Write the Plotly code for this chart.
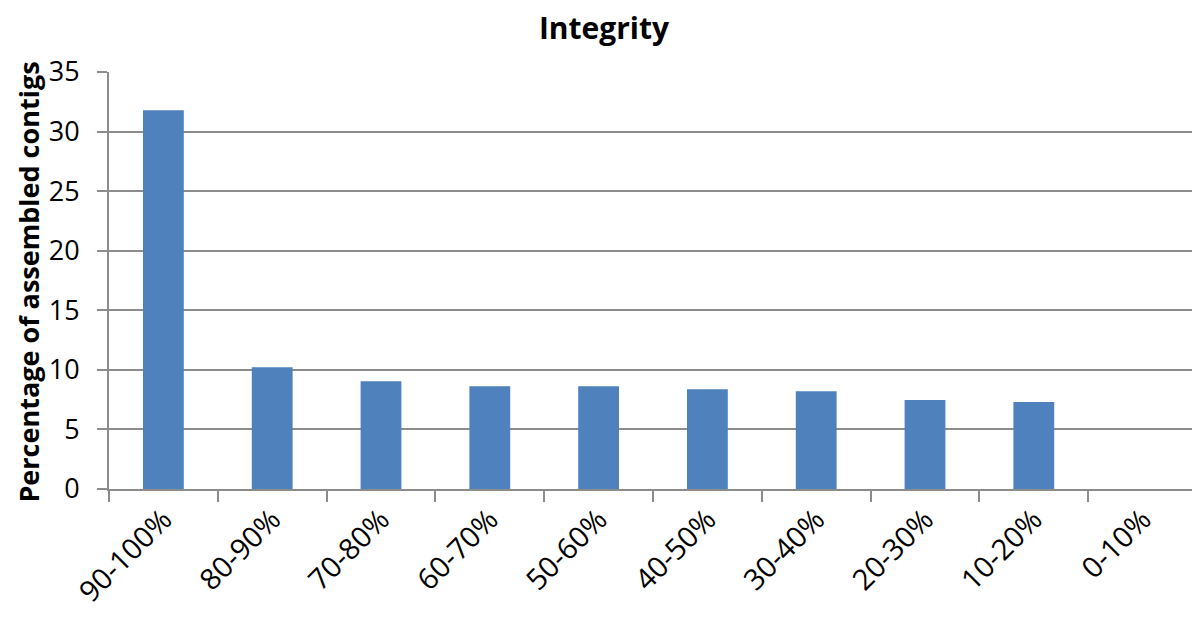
import plotly.graph_objects as go

categories = ["90-100%", "80-90%", "70-80%", "60-70%", "50-60%",
              "40-50%", "30-40%", "20-30%", "10-20%", "0-10%"]
percentages = [31.8, 10.22, 9.05, 8.62, 8.63, 8.38, 8.2, 7.48, 7.3, 0]
y_ticks = [0, 5, 10, 15, 20, 25, 30, 35]

FONT = "Open Sans, Liberation Sans, sans-serif"
GRID = "#8c8c8c"

fig = go.Figure(
    go.Bar(
        x=categories,
        y=percentages,
        marker=dict(color="#4f81bd", line=dict(width=0)),
        width=0.375,
    )
)

# page body adds an 8px margin, so the figure is sized to fit inside it
fig.update_layout(
    width=1192,
    height=611,
    margin=dict(l=101, r=3, t=64, b=130),
    paper_bgcolor="white",
    plot_bgcolor="white",
    showlegend=False,
    title=dict(
        text="<b>Integrity</b>",
        x=0.5,
        xanchor="center",
        yref="container",
        y=1 - 20 / 611,
        yanchor="middle",
        font=dict(family=FONT, size=30, color="black"),
    ),
    font=dict(family=FONT, color="black"),
)

# y title as an annotation so it sits close to the left edge like the original
fig.add_annotation(
    text="<b>Percentage of assembled contigs</b>",
    xref="paper",
    yref="paper",
    x=-80 / 1088,
    y=0.495,
    xanchor="center",
    yanchor="middle",
    textangle=-90,
    showarrow=False,
    borderpad=0,
    font=dict(family=FONT, size=27, color="black"),
)

fig.update_yaxes(
    range=[0, 35],
    tickvals=y_ticks,
    showgrid=True,
    gridcolor=GRID,
    gridwidth=2,
    showline=True,
    linecolor=GRID,
    linewidth=2,
    ticks="outside",
    ticklen=10,
    tickwidth=2,
    tickcolor=GRID,
    tickfont=dict(size=27),
    ticklabelstandoff=12,
    zeroline=False,
)

fig.update_xaxes(
    range=[-0.5, 9.5],
    showline=True,
    linecolor=GRID,
    linewidth=2,
    ticks="outside",
    tickson="boundaries",
    ticklen=11,
    tickwidth=2,
    tickcolor=GRID,
    tickangle=-45,
    tickfont=dict(size=29),
    showgrid=False,
)

fig.write_html("out.html")
